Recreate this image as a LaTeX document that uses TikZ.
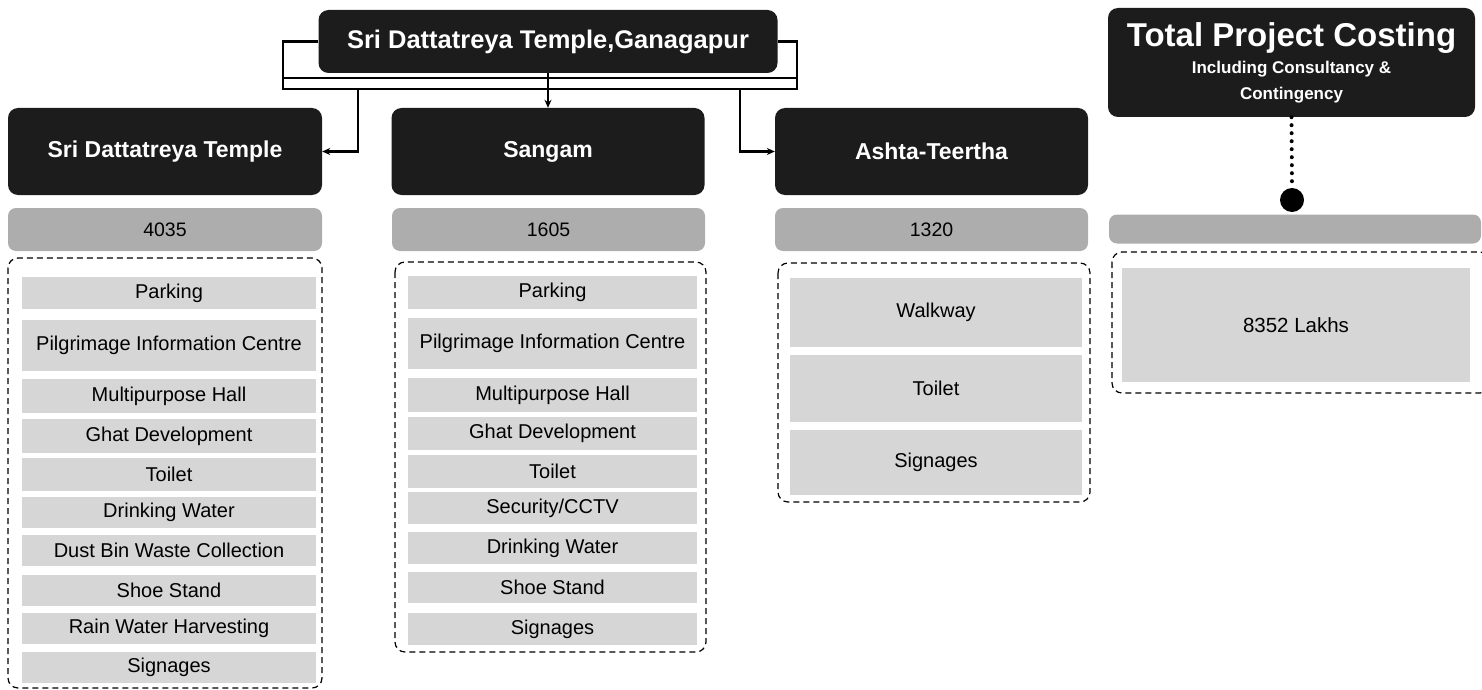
\documentclass[tikz,border=0pt]{standalone}
\usepackage{fontspec}
\setmainfont{Liberation Sans}
\usetikzlibrary{arrows.meta}

\definecolor{boxdark}{gray}{0.11}
\definecolor{barfill}{gray}{0.68}
\definecolor{itemfill}{gray}{0.84}

\begin{document}
\begin{tikzpicture}[x=1pt, y=-1pt, >={Stealth[length=8pt,width=7pt]},
  head/.style={fill=boxdark, rounded corners=10pt, text=white, inner sep=0pt,
    font=\fontsize{23}{26}\selectfont\bfseries},
  cost/.style={fill=barfill, rounded corners=8pt, inner sep=0pt,
    font=\fontsize{19.5}{22}\selectfont},
  item/.style={fill=itemfill, inner sep=0pt, font=\fontsize{20}{22}\selectfont},
  group/.style={draw, dash pattern=on 6pt off 4pt, line width=1.2pt, rounded corners=10pt},
  link/.style={line width=2.2pt}]

  \useasboundingbox (0,0) rectangle (1482,690);

  % --- 1. titles ---
  \node[head, minimum width=459pt, minimum height=63pt,
    font=\fontsize{25.5}{28}\selectfont\bfseries] (root) at (548,41.5)
    {Sri Dattatreya Temple,Ganagapur};
  \node[head, minimum width=314pt, minimum height=87pt] (temple) at (165,151.5) {Sri Dattatreya Temple};
  \node[head, minimum width=313pt, minimum height=87pt] (sangam) at (548,151.5) {Sangam};
  \node[head, minimum width=313pt, minimum height=87pt] (ashta) at (931.5,151.5) {Ashta-Teertha};
  \node[head, minimum width=367pt, minimum height=109pt, align=center] (total) at (1291.5,62.5)
    {\fontsize{33}{34}\selectfont\bfseries Total Project Costing\\[1pt]
     \fontsize{17}{21}\selectfont\bfseries Including Consultancy \&\\
     \fontsize{17}{21}\selectfont\bfseries Contingency};

  % --- 2. connectors ---
  \coordinate (ul) at (283,78);  \coordinate (ur) at (797,78);
  \coordinate (bl) at (283,89);  \coordinate (br) at (797,89);
  \coordinate (jl) at (358,89);  \coordinate (jr) at (740,89);
  \draw[link] (root.west) -| (bl) -- (br) |- (root.east);
  \draw[link] (ul) -- (ur);
  \draw[link,->] (root.south) -- (sangam.north);
  \draw[link,->] (jl) |- (temple.east);
  \draw[link,->] (jr) |- (ashta.west);

  \node[circle, fill=black, minimum size=24pt, inner sep=0pt] (dot) at (1292,200) {};
  \draw[line width=4pt, line cap=round, dash pattern=on 0pt off 8pt] (total.south) -- (dot.north);

  % --- 3. costs ---
  \node[cost, minimum width=314pt, minimum height=43pt] (cost1) at (165,229.5) {4035};
  \node[cost, minimum width=313pt, minimum height=43pt] (cost2) at (548.5,229.5) {1605};
  \node[cost, minimum width=313pt, minimum height=43pt] (cost3) at (931.5,229.5) {1320};
  \node[cost, minimum width=372pt, minimum height=29pt] (cost4) at (1295,229) {};

  % --- 4. work items ---
  \draw[group] (8,258) rectangle (322,688);
  \foreach \ya/\yb/\txt [count=\i] in {277/309/Parking, 320/371/Pilgrimage Information Centre,
      379/413/Multipurpose Hall, 419/453/Ghat Development, 458/491/Toilet,
      497/528/Drinking Water, 535/566/Dust Bin Waste Collection, 575/606/Shoe Stand,
      613/644/Rain Water Harvesting, 652/683/Signages}
    \node[item, minimum width=294pt, minimum height={(\yb-\ya)*1pt}] (a\i) at (169,{(\ya+\yb)/2}) {\txt};

  \draw[group] (395,262) rectangle (706,652);
  \foreach \ya/\yb/\txt [count=\i] in {276/309/Parking, 318/369/Pilgrimage Information Centre,
      378/412/Multipurpose Hall, 417/450/Ghat Development, 455/488/Toilet,
      492/524/{Security/CCTV}, 532/564/Drinking Water, 572/603/Shoe Stand, 613/645/Signages}
    \node[item, minimum width=289pt, minimum height={(\yb-\ya)*1pt}] (b\i) at (552.5,{(\ya+\yb)/2}) {\txt};

  \draw[group] (778,263) rectangle (1090,502);
  \foreach \ya/\yb/\txt [count=\i] in {278/347/Walkway, 355/422/Toilet, 430/495/Signages}
    \node[item, minimum width=292pt, minimum height={(\yb-\ya)*1pt}] (c\i) at (936,{(\ya+\yb)/2}) {\txt};

  \draw[group] (1112,252) rectangle (1490,393);
  \node[item, minimum width=348pt, minimum height=114pt, font=\fontsize{20.5}{22}\selectfont]
    (lakhs) at (1296,325) {8352 Lakhs};

\end{tikzpicture}
\end{document}
